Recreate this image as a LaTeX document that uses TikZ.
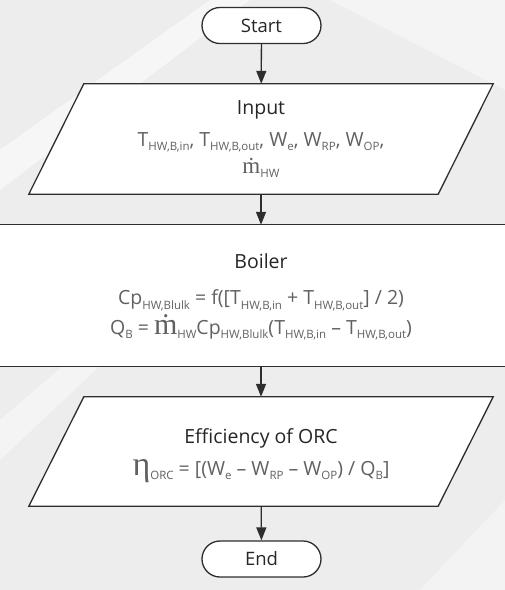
\documentclass[tikz,border=0pt]{standalone}
\usepackage{fontspec}
\setmainfont{Open Sans}
\newfontfamily\serifm{Liberation Serif}
\usetikzlibrary{shapes.misc,arrows.meta}
\pgfdeclarelayer{background}
\pgfdeclarelayer{back}
\pgfsetlayers{back,background,main}
\newcommand\sbx[1]{\raisebox{-0.22em}{\fontsize{11.5}{11.5}\selectfont #1}}
\newcommand\mdotS{{\serifm\fontsize{23}{23}\selectfont \.{m}}}
\newcommand\mdotL{{\serifm\fontsize{30}{30}\selectfont \.{m}}}
\newcommand\etaL{{\serifm\fontsize{34}{34}\selectfont η}}
\tikzset{
  lineclr/.style={draw=black!82, line width=1.3pt},
  term/.style={lineclr, fill=white, rounded rectangle, minimum width=119pt, minimum height=36pt, inner sep=0pt, font=\fontsize{18.5}{18.5}\selectfont, text=black!85},
  boxarea/.style={rectangle, inner sep=0pt, align=center, text=black!85},
  conn/.style={lineclr, -{Triangle[width=10pt,length=13pt]}},
}
\newcommand\ttl[1]{{\fontsize{19.5}{19.5}\selectfont #1}}
\newcommand\frm[1]{{\fontsize{19.5}{19.5}\selectfont\color{black!62}#1}}
\begin{document}
\begin{tikzpicture}[x=1pt,y=-1pt]
\useasboundingbox (0,0) rectangle (505,590);
\begin{pgfonlayer}{back}
\fill[black!7] (0,0) rectangle (505,590);
\fill[white,opacity=0.55] (0,150) -- (210,0) -- (250,0) -- (0,190) -- cycle;
\fill[white,opacity=0.4] (0,420) -- (140,300) -- (170,300) -- (0,460) -- cycle;
\fill[white,opacity=0.4] (330,0) -- (505,0) -- (505,90) -- cycle;
\fill[white,opacity=0.35] (420,590) -- (505,500) -- (505,590) -- cycle;
\end{pgfonlayer}

\node[term] (start) at (261.5,25.5) {Start};

\node[boxarea, minimum width=409pt, minimum height=110pt] (input) at (261,139)
  {\ttl{Input}\\[12pt]
   \frm{T\sbx{HW,B,in}, T\sbx{HW,B,out}, W\sbx{e}, W\sbx{RP}, W\sbx{OP},}\\[5pt]
   \frm{\mdotS\sbx{HW}}};

\node[boxarea, minimum width=530pt, minimum height=141pt, fill=white] (boiler) at (261,295.5) {};
\node[boxarea] (boilertext) at ([yshift=-1.5pt]boiler.center)
  {\ttl{Boiler}\\[20pt]
   \frm{Cp\sbx{HW,Blulk} = f([T\sbx{HW,B,in} + T\sbx{HW,B,out}] / 2)}\\[3pt]
   \frm{Q\sbx{B} = \mdotL\sbx{HW}Cp\sbx{HW,Blulk}(T\sbx{HW,B,in} – T\sbx{HW,B,out})}};

\node[boxarea, minimum width=409pt, minimum height=109pt] (eff) at (261,451.5) {};
\node[boxarea] (efftext) at ([yshift=-4pt]eff.center)
  {\ttl{Efficiency of ORC}\\[10pt]
   \frm{\etaL\sbx{ORC} = [(W\sbx{e} – W\sbx{RP} – W\sbx{OP}) / Q\sbx{B}]}};

\node[term] (end) at (261.5,559) {End};

\begin{pgfonlayer}{background}
\filldraw[lineclr, fill=white] ([xshift=27.5pt]input.north west) -- ([xshift=27.5pt]input.north east)
  -- ([xshift=-27.5pt]input.south east) -- ([xshift=-27.5pt]input.south west) -- cycle;
\filldraw[lineclr, fill=white] ([xshift=27.5pt]eff.north west) -- ([xshift=27.5pt]eff.north east)
  -- ([xshift=-27.5pt]eff.south east) -- ([xshift=-27.5pt]eff.south west) -- cycle;
\end{pgfonlayer}
\draw[lineclr] (boiler.north west) -- (boiler.north east);
\draw[lineclr] (boiler.south west) -- (boiler.south east);

\draw[conn] (start) -- (input);
\draw[conn] (input) -- (boiler);
\draw[conn] (boiler) -- (eff);
\draw[conn] (eff) -- (end);
\end{tikzpicture}
\end{document}
